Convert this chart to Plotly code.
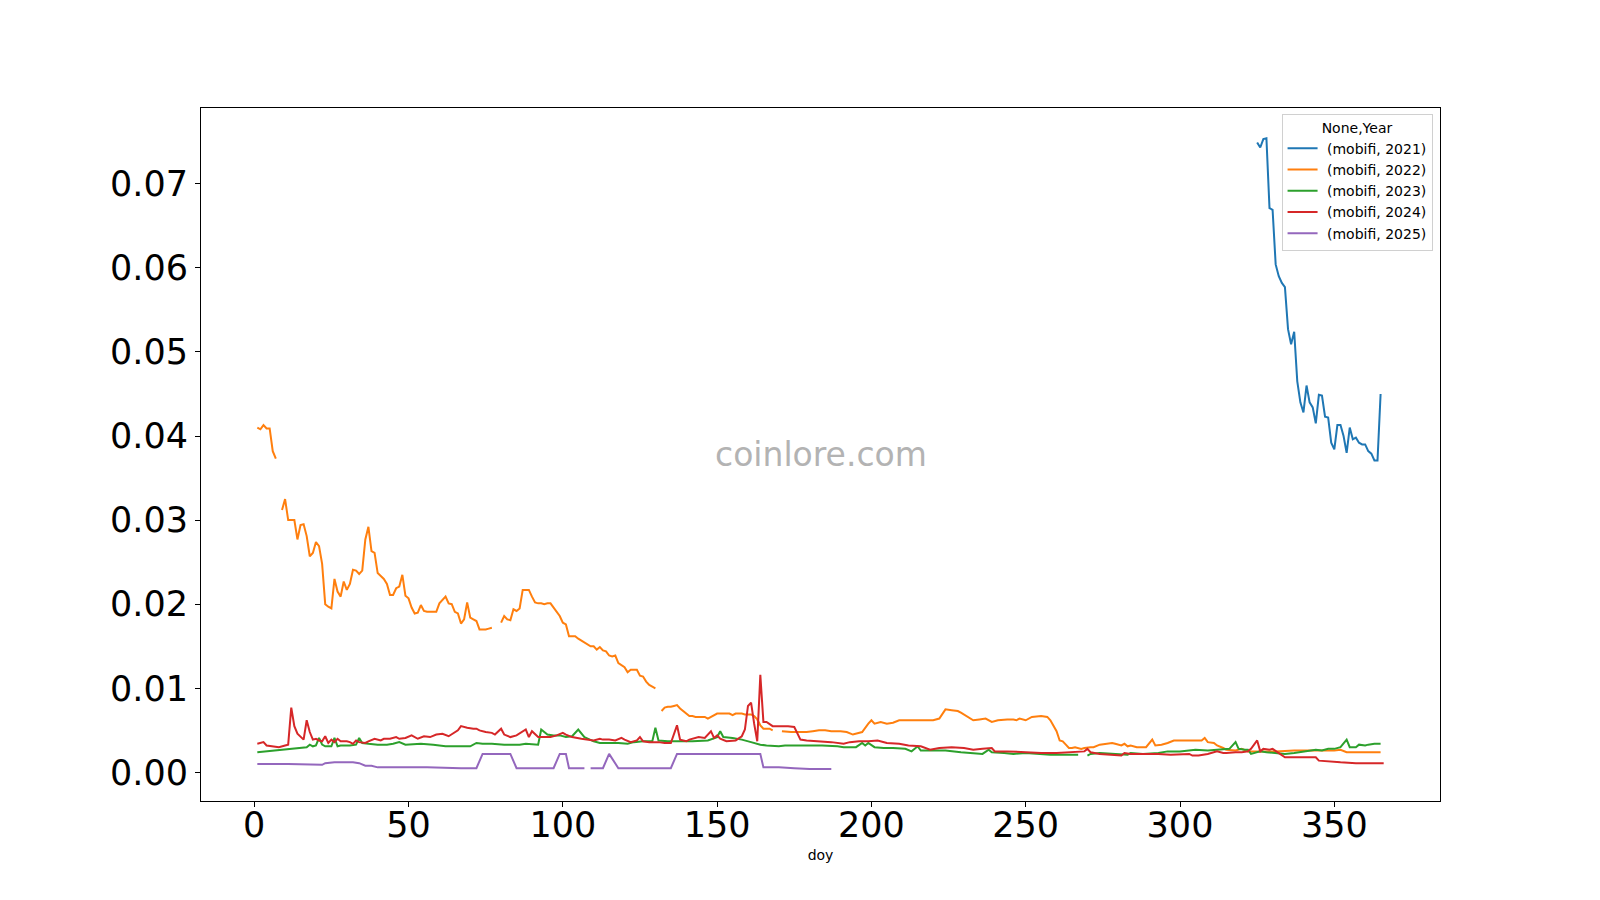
import plotly.graph_objects as go

N = None

doy_2021 = list(range(325, 366))
price_2021 = [0.0749, 0.0743, 0.0753, 0.0754, 0.0671, 0.0669, 0.0604, 0.0590, 0.0582, 0.0577,
              0.0527, 0.0509, 0.0524, 0.0465, 0.0440, 0.0428, 0.0460, 0.0440, 0.0434, 0.0415,
              0.0449, 0.0448, 0.0423, 0.0422, 0.0392, 0.0384, 0.0413, 0.0413, 0.0400, 0.0380,
              0.0410, 0.0396, 0.0398, 0.0392, 0.0390, 0.0390, 0.0382, 0.0379, 0.0371, 0.0371,
              0.0450]

doy_2022 = (list(range(1, 9)) + list(range(9, 79)) + list(range(80, 132)) + list(range(132, 170)) +
            [171, 173, 174, 176, 179, 181, 183, 185, 187, 190, 192, 194, 195, 197, 199, 200, 201,
             203, 205, 207, 209, 211, 214, 216, 218, 220, 222, 224, 226, 228, 229, 231, 233, 235,
             237, 239, 241, 244, 246, 247, 248, 250, 252, 255, 257, 258, 260, 261, 262, 263, 264,
             265, 266, 268, 269, 271, 272, 274, 276, 278, 279, 281, 282, 283, 284, 286, 288, 289,
             291, 292, 294, 296, 298, 299, 301, 303, 305, 307, 308, 309, 311, 312, 314, 315, 318,
             320, 322, 326, 331, 337, 343, 350, 352, 354, 365])
price_2022 = ([0.0410, 0.0408, 0.0413, 0.0409, 0.0409, 0.0382, 0.0373, N] +
              [0.0312, 0.0325, 0.0300, 0.0300, 0.0300, 0.0277, 0.0294, 0.0295, 0.0281, 0.0257,
               0.0261, 0.0274, 0.0269, 0.0248, 0.0200, 0.0197, 0.0195, 0.0230, 0.0215, 0.0209,
               0.0227, 0.0217, 0.0224, 0.0241, 0.0240, 0.0236, 0.0240, 0.0277, 0.0292, 0.0263,
               0.0261, 0.0237, 0.0233, 0.0230, 0.0224, 0.0211, 0.0211, 0.0219, 0.0221, 0.0235,
               0.0210, 0.0207, 0.0196, 0.0189, 0.0190, 0.0199, 0.0192, 0.0191, 0.0191, 0.0191,
               0.0191, 0.0201, 0.0205, 0.0209, 0.0201, 0.0200, 0.0191, 0.0189, 0.0177, 0.0182,
               0.0202, 0.0184, 0.0182, 0.0180, 0.0170, 0.0170, 0.0170, 0.0171, 0.0172, N] +
              [0.0178, 0.0186, 0.0182, 0.0181, 0.0194, 0.0192, 0.0195, 0.0217, 0.0217, 0.0217,
               0.0209, 0.0202, 0.0201, 0.0201, 0.0200, 0.0201, 0.0201, 0.0196, 0.0192, 0.0186,
               0.0178, 0.0176, 0.0162, 0.0162, 0.0162, 0.0159, 0.0157, 0.0155, 0.0153, 0.0150,
               0.0150, 0.0146, 0.0149, 0.0145, 0.0144, 0.0139, 0.0138, 0.0139, 0.0130, 0.0127,
               0.0125, 0.0119, 0.0122, 0.0122, 0.0122, 0.0115, 0.0114, 0.0108, 0.0104, 0.0102,
               0.0100, N] +
              [0.0073, 0.0077, 0.0078, 0.0078, 0.0079, 0.0080, 0.0076, 0.0073, 0.0071, 0.0067,
               0.0067, 0.0066, 0.0066, 0.0066, 0.0066, 0.0064, 0.0066, 0.0068, 0.0070, 0.0070,
               0.0070, 0.0070, 0.0070, 0.0068, 0.0070, 0.0070, 0.0070, 0.0069, 0.0069, 0.0069,
               0.0067, 0.0063, 0.0056, 0.0052, 0.0052, 0.0052, 0.0050, N] +
              [0.0049, 0.0048, 0.0048, 0.0048, 0.0048, 0.0049, 0.0050, 0.0050, 0.0049, 0.0049,
               0.0048, 0.0045, 0.0046, 0.0048, 0.0058, 0.0062, 0.0058, 0.0060, 0.0058, 0.0059,
               0.0062, 0.0062, 0.0062, 0.0062, 0.0062, 0.0062, 0.0064, 0.0075, 0.0074, 0.0073,
               0.0071, 0.0066, 0.0062, 0.0063, 0.0064, 0.0060, 0.0062, 0.0063, 0.0063, 0.0062,
               0.0064, 0.0062, 0.0066, 0.0067, 0.0066, 0.0062, 0.0049, 0.0038, 0.0037, 0.0033,
               0.0029, 0.0029, 0.0030, 0.0028, 0.0029, 0.0030, 0.0030, 0.0033, 0.0034, 0.0035,
               0.0034, 0.0032, 0.0034, 0.0031, 0.0032, 0.0030, 0.0030, 0.0030, 0.0039, 0.0032,
               0.0033, 0.0035, 0.0038, 0.0038, 0.0038, 0.0038, 0.0038, 0.0038, 0.0041, 0.0036,
               0.0035, 0.0032, 0.0029, 0.0027, 0.0026, 0.0028, 0.0025, 0.0025, 0.0025, 0.0026,
               0.0026, 0.0026, 0.0027, 0.0024, 0.0024])

doy_2023 = [1, 10, 17, 18, 19, 20, 21, 22, 23, 25, 26, 27, 28, 31, 33, 34, 35, 37, 40, 43, 45, 47,
            49, 54, 58, 62, 66, 70, 72, 74, 77, 81, 86, 88, 92, 93, 95, 97, 99, 101, 103, 105, 107,
            110, 112, 115, 118, 121, 123, 126, 128, 129, 130, 131, 134, 138, 142, 147, 150, 151,
            152, 155, 158, 161, 164, 166, 170, 172, 175, 180, 184, 189, 191, 195, 197, 198, 199,
            201, 204, 207, 211, 213, 215, 216, 220, 224, 229, 233, 236, 238, 239, 243, 246, 250,
            254, 258, 262, 267, 268, 270, 271, 274, 278, 283, 284, 288, 293, 296, 300, 303, 305,
            309, 312, 316, 318, 319, 321, 322, 323, 324, 326, 328, 331, 334, 337, 340, 344, 346,
            348, 350, 352, 354, 355, 357, 358, 360, 361, 363, 365]
price_2023 = [0.0024, 0.0027, 0.0030, 0.0033, 0.0031, 0.0032, 0.0041, 0.0033, 0.0031, 0.0031,
              0.0041, 0.0031, 0.0032, 0.0032, 0.0033, 0.0041, 0.0035, 0.0034, 0.0033, 0.0033,
              0.0034, 0.0036, 0.0033, 0.0034, 0.0033, 0.0031, 0.0031, 0.0031, 0.0035, 0.0034,
              0.0034, 0.0033, 0.0033, 0.0034, 0.0033, 0.0051, 0.0045, 0.0044, 0.0044, 0.0042,
              0.0043, 0.0051, 0.0042, 0.0037, 0.0035, 0.0035, 0.0035, 0.0034, 0.0036, 0.0037,
              0.0037, 0.0037, 0.0053, 0.0038, 0.0037, 0.0037, 0.0037, 0.0038, 0.0042, 0.0049,
              0.0042, 0.0041, 0.0039, 0.0036, 0.0033, 0.0032, 0.0031, 0.0032, 0.0032, 0.0032,
              0.0032, 0.0031, 0.0030, 0.0030, 0.0035, 0.0032, 0.0035, 0.0030, 0.0029, 0.0029,
              0.0028, 0.0025, 0.0031, 0.0026, 0.0026, 0.0026, 0.0024, 0.0023, 0.0022, 0.0027,
              0.0024, 0.0023, 0.0022, 0.0023, 0.0022, 0.0021, 0.0021, 0.0021, N, 0.0020,
              0.0022, 0.0023, 0.0022, 0.0021, 0.0023, 0.0022, 0.0023, 0.0025, 0.0025, 0.0026,
              0.0027, 0.0026, 0.0027, 0.0028, 0.0036, 0.0028, 0.0027, 0.0027, 0.0022, 0.0023,
              0.0025, 0.0024, 0.0023, 0.0022, 0.0023, 0.0025, 0.0027, 0.0026, 0.0028, 0.0028,
              0.0030, 0.0039, 0.0030, 0.0030, 0.0033, 0.0032, 0.0033, 0.0034, 0.0034]

doy_2024 = [1, 3, 4, 6, 8, 10, 11, 12, 13, 14, 15, 16, 17, 18, 19, 20, 21, 22, 23, 24, 25, 26, 27,
            28, 30, 31, 32, 33, 34, 36, 37, 39, 41, 42, 44, 46, 47, 49, 51, 53, 55, 57, 59, 61, 63,
            66, 67, 69, 71, 72, 73, 75, 77, 78, 80, 81, 83, 85, 88, 89, 90, 92, 94, 96, 98, 100,
            101, 103, 106, 108, 110, 112, 113, 115, 117, 119, 120, 122, 124, 125, 126, 128, 131,
            133, 135, 137, 138, 140, 141, 144, 146, 148, 149, 150, 151, 153, 156, 158, 159, 160,
            161, 162, 163, 164, 165, 166, 168, 171, 173, 175, 177, 179, 183, 187, 191, 193, 196,
            199, 202, 205, 209, 212, 216, 219, 222, 226, 230, 233, 236, 239, 240, 244, 250, 255,
            260, 265, 269, 270, 271, 274, 278, 281, 282, 284, 289, 293, 297, 301, 303, 304, 306,
            309, 312, 314, 315, 318, 320, 322, 323, 325, 326, 327, 329, 330, 332, 333, 334, 336,
            339, 342, 344, 345, 348, 352, 357, 366]
price_2024 = [0.0034, 0.0036, 0.0032, 0.0031, 0.0030, 0.0032, 0.0033, 0.0077, 0.0055, 0.0046,
              0.0043, 0.0039, 0.0062, 0.0048, 0.0039, 0.0040, 0.0038, 0.0037, 0.0043, 0.0035,
              0.0039, 0.0036, 0.0040, 0.0037, 0.0037, 0.0036, 0.0034, 0.0038, 0.0036, 0.0035,
              0.0037, 0.0040, 0.0038, 0.0040, 0.0040, 0.0042, 0.0040, 0.0041, 0.0044, 0.0040,
              0.0043, 0.0042, 0.0045, 0.0046, 0.0043, 0.0050, 0.0055, 0.0053, 0.0052, 0.0052,
              0.0050, 0.0048, 0.0047, 0.0045, 0.0052, 0.0045, 0.0042, 0.0044, 0.0051, 0.0042,
              0.0049, 0.0042, 0.0042, 0.0042, 0.0044, 0.0047, 0.0045, 0.0042, 0.0040, 0.0039,
              0.0038, 0.0040, 0.0039, 0.0039, 0.0038, 0.0041, 0.0039, 0.0036, 0.0038, 0.0042,
              0.0037, 0.0036, 0.0036, 0.0035, 0.0035, 0.0056, 0.0039, 0.0037, 0.0039, 0.0042,
              0.0041, 0.0049, 0.0041, 0.0044, 0.0040, 0.0037, 0.0038, 0.0043, 0.0051, 0.0079,
              0.0083, 0.0058, 0.0037, 0.0116, 0.0060, 0.0060, 0.0055, 0.0055, 0.0055, 0.0054,
              0.0039, 0.0038, 0.0037, 0.0036, 0.0034, 0.0036, 0.0037, 0.0037, 0.0038, 0.0035,
              0.0034, 0.0032, 0.0031, 0.0027, 0.0029, 0.0030, 0.0029, 0.0027, 0.0028, 0.0029,
              0.0025, 0.0025, 0.0024, 0.0023, 0.0023, 0.0024, 0.0025, 0.0028, 0.0024, 0.0022,
              0.0021, 0.0020, 0.0023, 0.0022, 0.0022, 0.0022, 0.0021, 0.0022, 0.0022, 0.0020,
              0.0020, 0.0022, 0.0025, 0.0023, 0.0023, 0.0024, 0.0024, 0.0025, 0.0028, 0.0038,
              0.0025, 0.0028, 0.0027, 0.0028, 0.0023, 0.0021, 0.0018, 0.0018, 0.0018, 0.0018,
              0.0018, 0.0014, 0.0013, 0.0012, 0.0011, 0.0011]

doy_2025 = [1, 11, 22, 23, 26, 32, 34, 36, 38, 40, 45, 56, 67, 72, 74, 83, 85, 97, 99, 101, 102,
            107, 108, 109, 113, 115, 118, 126, 135, 137, 150, 164, 165, 170, 175, 180, 187]
price_2025 = [0.0010, 0.0010, 0.0009, 0.0011, 0.0012, 0.0012, 0.0011, 0.0008, 0.0008, 0.0006,
              0.0006, 0.0006, 0.0005, 0.0005, 0.0022, 0.0022, 0.0005, 0.0005, 0.0022, 0.0022,
              0.0005, 0.0005, N, 0.0005, 0.0005, 0.0022, 0.0005, 0.0005, 0.0005, 0.0022,
              0.0022, 0.0022, 0.0006, 0.0006, 0.0005, 0.0004, 0.0004]

series = [
    (" (mobifi, 2021)", doy_2021, price_2021, "#1f77b4"),
    (" (mobifi, 2022)", doy_2022, price_2022, "#ff7f0e"),
    (" (mobifi, 2023)", doy_2023, price_2023, "#2ca02c"),
    (" (mobifi, 2024)", doy_2024, price_2024, "#d62728"),
    (" (mobifi, 2025)", doy_2025, price_2025, "#9467bd"),
]

fig = go.Figure()
for name, xs, ys, color in series:
    fig.add_trace(go.Scatter(x=xs, y=ys, mode="lines", name=name,
                             line=dict(color=color, width=2), connectgaps=False))

font_family = "DejaVu Sans"
fig.update_layout(
    width=1600, height=900,
    margin=dict(l=201, r=160, t=108, b=99),
    plot_bgcolor="white", paper_bgcolor="white",
    font=dict(family=font_family, color="black"),
    showlegend=True,
    legend=dict(
        x=0.994, y=0.992, xanchor="right", yanchor="top",
        bgcolor="rgba(255,255,255,0.8)", bordercolor="#d0d0d0", borderwidth=1,
        font=dict(size=14, family=font_family),
        title=dict(text="None,Year", font=dict(size=14, family=font_family), side="top center"),
        itemwidth=30, tracegroupgap=0,
    ),
    annotations=[dict(text="coinlore.com", xref="paper", yref="paper", x=0.5, y=0.5,
                      showarrow=False, font=dict(size=33, color="#b3b3b3", family=font_family))],
)
fig.update_xaxes(
    range=[-17.25, 384.25], tickvals=[0, 50, 100, 150, 200, 250, 300, 350],
    showgrid=False, zeroline=False, showline=True, mirror=True, linecolor="black", linewidth=1,
    ticks="outside", ticklen=5, tickcolor="black", tickfont=dict(size=35),
    ticklabelstandoff=-12,
    title=dict(text="doy", font=dict(size=14), standoff=6),
)
fig.update_yaxes(
    range=[-0.0034, 0.0790], tickvals=[0.0, 0.01, 0.02, 0.03, 0.04, 0.05, 0.06, 0.07],
    tickformat=".2f",
    showgrid=False, zeroline=False, showline=True, mirror=True, linecolor="black", linewidth=1,
    ticks="outside", ticklen=5, tickcolor="black", tickfont=dict(size=35),
)

fig.write_html("out.html", config={"displayModeBar": False},
               post_script="document.body.style.margin='0';")
